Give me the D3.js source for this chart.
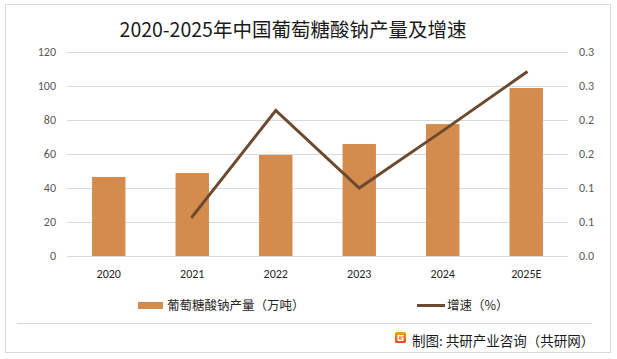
<!DOCTYPE html>
<html><head><meta charset="utf-8">
<script src="https://cdn.jsdelivr.net/npm/d3@7"></script>
<style>
html,body{margin:0;padding:0;background:#fff;}
svg{display:block;}
text{font-family:"Noto Sans CJK SC","Microsoft YaHei",sans-serif;}
</style></head>
<body>
<script>
const categories = ["2020","2021","2022","2023","2024","2025E"];
const production = [46.5, 48.8, 59.4, 65.9, 77.6, 98.8];
const growth = [null, 0.058, 0.214, 0.100, 0.184, 0.270];
const leftTicks = [0,20,40,60,80,100,120];
const rightTickValues = [0,0.05,0.1,0.15,0.2,0.25,0.3];
const rightTickLabels = ["0.0","0.1","0.1","0.2","0.2","0.3","0.3"];
const titleText = "2020-2025年中国葡萄糖酸钠产量及增速";
const barLegend = "葡萄糖酸钠产量（万吨）";
const lineLegend = "增速（%）";
const footerText = "制图: 共研产业咨询（共研网）";

const W = 617, H = 359;
const svg = d3.select("body").append("svg").attr("width", W).attr("height", H);

// outer border
svg.append("rect").attr("x",5.5).attr("y",4.5).attr("width",605).attr("height",348)
  .attr("fill","#fff").attr("stroke","#D9D9D9").attr("stroke-width",1);

const plot = {l:67, r:568, t:52, b:256};
const x = d3.scaleBand().domain(categories).range([plot.l, plot.r]).paddingInner(0.6).paddingOuter(0.3);
const yL = d3.scaleLinear().domain([0,120]).range([plot.b, plot.t]);
const yR = d3.scaleLinear().domain([0,0.3]).range([plot.b, plot.t]);

// title
svg.append("text").attr("x",293).attr("y",37).attr("text-anchor","middle")
  .attr("font-size",19.5).attr("fill","#1a1a1a").text(titleText);

// gridlines
svg.append("g").selectAll("line").data(leftTicks).join("line")
  .attr("x1",plot.l).attr("x2",plot.r)
  .attr("y1",d=>Math.round(yL(d))+0.5).attr("y2",d=>Math.round(yL(d))+0.5)
  .attr("stroke","#D9D9D9").attr("stroke-width",1);

const axisFont = "Calibri,Carlito,'Liberation Sans',sans-serif";
// left axis
const axL = svg.append("g").attr("transform",`translate(${plot.l},0)`)
  .call(d3.axisLeft(yL).tickValues(leftTicks).tickSize(0).tickPadding(11));
axL.select(".domain").remove();
axL.selectAll("text").attr("font-size",12).attr("fill","#595959").style("font-family",axisFont);

// right axis
const axR = svg.append("g").attr("transform",`translate(${plot.r},0)`)
  .call(d3.axisRight(yR).tickValues(rightTickValues).tickSize(0).tickPadding(11)
    .tickFormat((d,i)=>rightTickLabels[i]));
axR.select(".domain").remove();
axR.selectAll("text").attr("font-size",12).attr("fill","#595959").style("font-family",axisFont);

// x axis
const axX = svg.append("g").attr("transform",`translate(0,${plot.b})`)
  .call(d3.axisBottom(x).tickSize(0).tickPadding(13));
axX.select(".domain").remove();
axX.selectAll("text").attr("font-size",12).attr("fill","#262626").style("font-family",axisFont);

// bars
const barColor = "#D38B4E", lineColor = "#6B4A2F";
svg.append("g").selectAll("rect").data(categories).join("rect")
  .attr("x",d=>x(d)).attr("width",x.bandwidth())
  .attr("y",(d,i)=>yL(production[i])).attr("height",(d,i)=>plot.b - yL(production[i]))
  .attr("fill",barColor);

// line
const pts = categories.map((c,i)=>({c, v:growth[i]})).filter(d=>d.v!=null);
svg.append("path").datum(pts)
  .attr("d", d3.line().x(d=>x(d.c)+x.bandwidth()/2).y(d=>yR(d.v)))
  .attr("fill","none").attr("stroke",lineColor).attr("stroke-width",3)
  .attr("stroke-linejoin","miter").attr("stroke-linecap","square");

// legend
const lg = svg.append("g");
lg.append("rect").attr("x",138).attr("y",302).attr("width",25).attr("height",7).attr("fill",barColor);
lg.append("text").attr("x",167).attr("y",310).attr("font-size",12.5).attr("fill","#262626").text(barLegend);
lg.append("line").attr("x1",417).attr("x2",445).attr("y1",305.5).attr("y2",305.5)
  .attr("stroke",lineColor).attr("stroke-width",3);
lg.append("text").attr("x",447).attr("y",310).attr("font-size",12.5).attr("fill","#262626").text(lineLegend);

// separator
svg.append("line").attr("x1",17).attr("x2",592).attr("y1",323.5).attr("y2",323.5)
  .attr("stroke","#D9D9D9").attr("stroke-width",1);

// footer logo
const defs = svg.append("defs");
const grad = defs.append("linearGradient").attr("id","lg1").attr("x1","0").attr("y1","0").attr("x2","0").attr("y2","1");
grad.append("stop").attr("offset","0").attr("stop-color","#F7A21B");
grad.append("stop").attr("offset","1").attr("stop-color","#E8491D");
const logo = svg.append("g").attr("transform","translate(395,332)");
logo.append("rect").attr("width",11).attr("height",11).attr("rx",1.5).attr("fill","url(#lg1)");
logo.append("path").attr("d","M2.5,3 H8.5 V4.5 H4 V7.5 H7 V6.5 H5.5 V5.5 H8.5 V9 H2.5 Z").attr("fill","#fff");
svg.append("text").attr("x",412).attr("y",346).attr("font-size",13.5).attr("fill","#1a1a1a").text(footerText);
</script>
</body></html>
